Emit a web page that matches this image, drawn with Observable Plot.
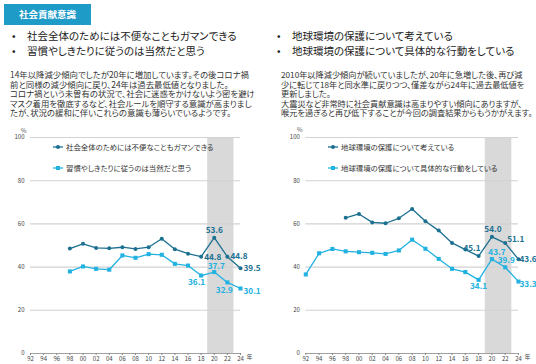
<!DOCTYPE html>
<html><head><meta charset="utf-8">
<script src="https://cdn.jsdelivr.net/npm/d3@7"></script>
<script src="https://cdn.jsdelivr.net/npm/@observablehq/plot@0.6"></script>
<style>
body{margin:0;background:#fff;font-family:"Noto Sans CJK JP","Noto Sans",sans-serif;font-feature-settings:"palt";color:#222}
#page{position:relative;width:536px;height:364px;overflow:hidden}
.abs{position:absolute;white-space:nowrap}
.tag{left:4px;top:4px;width:87px;height:21px;background:#1f9bc7;color:#fff;font-size:9.5px;line-height:21px;text-align:center;font-weight:bold}
.bul{font-size:10.5px;line-height:14.7px;color:#222}
.bul span.dot{display:inline-block;width:15px}
.para{font-size:8.4px;line-height:9.6px;color:#333}
.leg{font-size:7.4px;color:#333;line-height:10px}
.unit{font-size:6px;color:#555}
svg{overflow:visible}
</style></head>
<body><div id="page">
<div class="abs tag">社会貢献意識</div>
<div class="abs bul" style="left:12px;top:29px"><span class="dot">•</span>社会全体のためには不便なこともガマンできる<br><span class="dot">•</span>習慣やしきたりに従うのは当然だと思う</div>
<div class="abs bul" style="left:277px;top:29px"><span class="dot">•</span>地球環境の保護について考えている<br><span class="dot">•</span>地球環境の保護について具体的な行動をしている</div>
<div class="abs para" style="left:10px;top:70px">14年以降減少傾向でしたが20年に増加しています。その後コロナ禍<br>前と同様の減少傾向に戻り、24年は過去最低値となりました。<br>コロナ禍という未曽有の状況で、社会に迷惑をかけないよう密を避け<br>マスク着用を徹底するなど、社会ルールを順守する意識が高まりまし<br>たが、状況の緩和に伴いこれらの意識も薄らいでいるようです。</div>
<div class="abs para" style="left:281px;top:70px;font-size:8.2px">2010年以降減少傾向が続いていましたが、20年に急増した後、再び減<br>少に転じて18年と同水準に戻りつつ、僅差ながら24年に過去最低値を<br>更新しました。<br>大震災など非常時に社会貢献意識は高まりやすい傾向にありますが、<br>喉元を過ぎると再び低下することが今回の調査結果からもうかがえます。</div>
<div class="abs unit" style="left:21px;top:126px">%</div>
<div class="abs unit" style="left:297px;top:125px">%</div>
<div id="c1" class="abs" style="left:0;top:125px"></div>
<div id="c2" class="abs" style="left:268px;top:125px"></div>
<div id="l1" class="abs"></div>
<div id="l2" class="abs"></div>
</div>
<script>
// ---- data ----
const yearsLeft = [1998,2000,2002,2004,2006,2008,2010,2012,2014,2016,2018,2020,2022,2024];
const gamanValues = [48.6,50.8,48.9,48.7,49.2,48.4,49.2,53.1,48.3,46.2,44.8,53.6,44.8,39.5];
const shikitariValues = [38.0,40.3,39.2,38.8,45.4,44.3,46.0,45.7,41.5,40.7,36.1,37.7,32.9,30.1];

const yearsEnvThink = [1998,2000,2002,2004,2006,2008,2010,2012,2014,2016,2018,2020,2022,2024];
const envThinkValues = [62.8,64.6,60.7,60.3,62.6,66.9,61.2,56.9,51.2,48.1,45.1,54.0,51.1,43.6];
const yearsEnvAct = [1992,1994,1996,1998,2000,2002,2004,2006,2008,2010,2012,2014,2016,2018,2020,2022,2024];
const envActValues = [36.6,46.4,48.4,47.3,46.9,46.6,46.1,47.7,52.7,48.5,43.8,39.2,37.7,34.1,43.7,39.9,33.3];

const seriesNamesLeft = ["社会全体のためには不便なこともガマンできる","習慣やしきたりに従うのは当然だと思う"];
const seriesNamesRight = ["地球環境の保護について考えている","地球環境の保護について具体的な行動をしている"];
const labeledYears = [2018,2020,2022,2024];
const xTicks = [1992,1994,1996,1998,2000,2002,2004,2006,2008,2010,2012,2014,2016,2018,2020,2022,2024];
const yTicks = [0,20,40,60,80,100];
const covidBand = [{from:2019, to:2023}];
const yearUnit = "年";

// ---- styles ----
const DARK = "#1b7091", LIGHT = "#22b2e2";
const FONT = '"Noto Sans CJK JP","Noto Sans",sans-serif';

function rows(years, vals){ return years.map((year,i)=>({year, v:vals[i]})); }

function labelMarks(data, color, place){
  const d = data.filter(r=>labeledYears.includes(r.year));
  return labeledYears.map((yr,i)=>{
    const p = place[i];
    return Plot.text(d.filter(r=>r.year===yr), {x:"year", y:"v", text:r=>r.v.toFixed(1),
      fill:color, fontSize:8.2, fontWeight:"600", textAnchor:p[0], dx:p[1], dy:p[2]});
  });
}

function chart(cfg){
  const dark = rows(cfg.darkYears, cfg.darkVals);
  const light = rows(cfg.lightYears, cfg.lightVals);
  return Plot.plot({
    width:268, height:239, marginLeft:cfg.ml, marginRight:cfg.mr, marginTop:12, marginBottom:11,
    x:{domain:[1992,2024], axis:null},
    y:{domain:[0,100], axis:null},
    style:{fontFamily:FONT, background:"transparent", overflow:"visible"},
    marks:[
      Plot.rect(covidBand, {x1:"from", x2:"to", y1:0, y2:100, fill:"#d9d9d9"}),
      Plot.ruleY(yTicks.filter(t=>t>0), {stroke:"#d2d2d2", strokeWidth:1.1}),
      Plot.ruleY([0], {stroke:"#888", strokeWidth:0.8}),
      Plot.axisX(xTicks, {tickSize:2, tickPadding:1, fontSize:6, stroke:"#888", fill:"#444", label:null,
        tickFormat:d=>String(d%100).padStart(2,"0")}),
      Plot.axisY(yTicks, {tickSize:0, tickPadding:6, fontSize:6, fill:"#444", label:null}),
      Plot.text([yearUnit], {x:()=>2024, frameAnchor:"bottom", dx:9, dy:5.5, fontSize:6, fill:"#444"}),
      Plot.line(light, {x:"year", y:"v", stroke:LIGHT, strokeWidth:1.3}),
      Plot.dot(light, {x:"year", y:"v", fill:LIGHT, symbol:"square", r:2.3}),
      Plot.line(dark, {x:"year", y:"v", stroke:DARK, strokeWidth:1.3}),
      Plot.dot(dark, {x:"year", y:"v", fill:DARK, r:2}),
      ...labelMarks(dark, DARK, cfg.darkPlace),
      ...labelMarks(light, LIGHT, cfg.lightPlace)
    ]
  });
}

document.getElementById("c1").append(chart({
  darkYears:yearsLeft, darkVals:gamanValues, lightYears:yearsLeft, lightVals:shikitariValues,
  ml:30, mr:28,
  darkPlace:[["start",3,1],["middle",0,-7],["start",3,0],["start",3,0]],
  lightPlace:[["end",4,7],["middle",2,-6],["middle",-3,8],["start",3,3]]
}));
document.getElementById("c2").append(chart({
  darkYears:yearsEnvThink, darkVals:envThinkValues, lightYears:yearsEnvAct, lightVals:envActValues,
  ml:37.3, mr:18,
  darkPlace:[["end",2,-8],["middle",1,-7],["start",2,-4],["start",1,0]],
  lightPlace:[["middle",0,7],["middle",5,-7],["middle",1,-7],["start",1,3]]
}));

function legend(el, left, names){
  const node = document.getElementById(el);
  node.style.left = left+"px"; node.style.top = "142px";
  node.innerHTML = names.map((n,i)=>{
    const c = i===0?DARK:LIGHT;
    const mark = i===0?`<circle cx="6" cy="5" r="2" fill="${c}"/>`:`<rect x="4" y="3" width="4" height="4" fill="${c}"/>`;
    return `<div class="leg" style="margin-bottom:${i===0?11:0}px"><svg width="12" height="10" style="vertical-align:top;margin-right:2px"><line x1="1" x2="11" y1="5" y2="5" stroke="${c}" stroke-width="1.3"/>${mark}</svg>${n}</div>`;
  }).join("");
}
legend("l1", 52, seriesNamesLeft);
legend("l2", 327, seriesNamesRight);
</script>
</body></html>
